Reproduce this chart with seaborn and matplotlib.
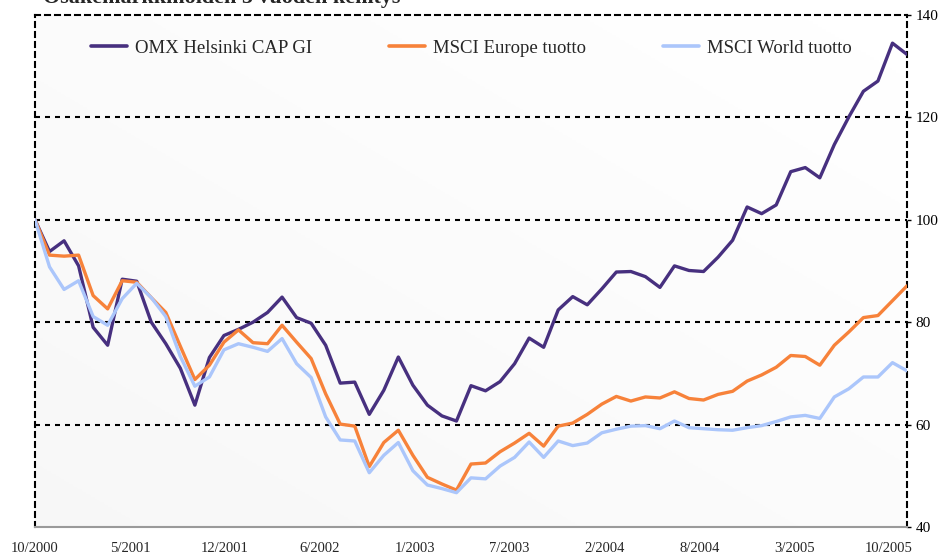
import numpy as np
import pandas as pd
import seaborn as sns
import matplotlib.pyplot as plt

# monthly index values 10/2000 - 10/2005 (start = 100)
months = pd.period_range('2000-10', '2005-10', freq='M').strftime('%m/%Y').tolist()

omx = [100, 93.8, 95.9, 91.0, 79.0, 75.5, 88.4, 88.0, 80.0, 75.8,
       71.0, 63.8, 73.1, 77.4, 78.6, 80.0, 81.9, 84.9, 80.9, 79.8,
       75.5, 68.1, 68.3, 62.0, 66.7, 73.2, 67.7, 63.8, 61.7, 60.7,
       67.6, 66.6, 68.4, 71.9, 76.9, 75.1, 82.4, 85.0, 83.4, 86.5,
       89.8, 89.9, 88.9, 86.8, 91.0, 90.1, 89.9, 92.7, 96.0, 102.5,
       101.2, 102.9, 109.4, 110.2, 108.2, 114.7, 120.1, 125.1, 127.1, 134.5,
       132.3]
europe = [100, 93.1, 92.9, 93.1, 85.2, 82.6, 88.1, 87.8, 84.8, 81.9,
          75.3, 68.8, 71.6, 76.1, 78.5, 76.0, 75.8, 79.4, 76.1, 72.9,
          66.0, 60.1, 59.7, 51.8, 56.5, 58.9, 54.0, 49.7, 48.4, 47.2,
          52.3, 52.5, 54.7, 56.4, 58.3, 55.8, 59.7, 60.3, 62.0, 64.0,
          65.5, 64.6, 65.4, 65.2, 66.4, 65.1, 64.8, 65.9, 66.5, 68.5,
          69.7, 71.2, 73.5, 73.3, 71.6, 75.5, 78.1, 80.9, 81.3, 84.2,
          87.1]
world = [100, 90.8, 86.4, 88.1, 81.1, 79.4, 84.6, 87.6, 84.8, 81.1,
         73.3, 67.5, 69.3, 74.6, 75.8, 75.1, 74.3, 76.8, 71.9, 69.2,
         61.5, 57.0, 56.8, 50.6, 54.0, 56.5, 51.0, 48.2, 47.5, 46.7,
         49.6, 49.4, 51.9, 53.6, 56.6, 53.6, 56.8, 55.9, 56.4, 58.4,
         59.1, 59.7, 59.8, 59.2, 60.7, 59.4, 59.2, 59.0, 58.9, 59.4,
         59.8, 60.6, 61.5, 61.8, 61.2, 65.4, 67.0, 69.3, 69.3, 72.1,
         70.5]

series_names = ['OMX Helsinki CAP GI', 'MSCI Europe tuotto', 'MSCI World tuotto']
colors = ['#47307f', '#f7823a', '#abc6fb']
x_labels = ['10/2000', '5/2001', '12/2001', '6/2002', '1/2003',
            '7/2003', '2/2004', '8/2004', '3/2005', '10/2005']
y_ticks = [40, 60, 80, 100, 120, 140]

df = pd.DataFrame({'idx': np.arange(len(months)), 'month': months,
                   series_names[0]: omx, series_names[1]: europe,
                   series_names[2]: world})
long = df.melt(id_vars=['idx', 'month'], var_name='series', value_name='value')

sns.set_style('white')
plt.rcParams['font.family'] = ['Liberation Serif', 'DejaVu Serif']

fig = plt.figure(figsize=(9.42, 5.59), dpi=100)
ax = fig.add_axes([35 / 942, 1 - 527 / 559, 872 / 942, 512 / 559])

# subtle background gradient
gx, gy = np.meshgrid(np.linspace(0, 1, 200), np.linspace(0, 1, 200))
grad = (1 - gx) * 0.5 + (1 - gy) * 0.5
ax.imshow(grad, extent=[0, 1, 0, 1], transform=ax.transAxes, aspect='auto',
          cmap='Greys', vmin=0, vmax=16, zorder=0, origin='lower')

sns.lineplot(data=long, x='idx', y='value', hue='series', hue_order=series_names,
             palette=dict(zip(series_names, colors)), linewidth=2.4, ax=ax,
             legend=False, zorder=3)

ax.set_xlim(0, len(months) - 1)
ax.set_ylim(40, 140)
ax.set_xlabel('')
ax.set_ylabel('')

# grid and border
for v in [60, 80, 100, 120]:
    ax.axhline(v, color='black', linestyle=(0, (2.4, 2.4)), linewidth=1.5, zorder=2)
for side in ['top', 'left', 'right']:
    ax.spines[side].set_linestyle((0, (2.4, 2.4)))
    ax.spines[side].set_linewidth(1.5)
    ax.spines[side].set_color('black')
ax.spines['bottom'].set_color('#9a9a9a')
ax.spines['bottom'].set_linewidth(1.5)

ax.yaxis.tick_right()
ax.set_yticks(y_ticks)
ax.set_yticklabels([str(t) for t in y_ticks], fontsize=11)
ax.tick_params(axis='y', length=3, width=1, pad=3, colors='black')
ax.set_xticks(np.arange(len(x_labels)) * 6.53)
ax.set_xticklabels(x_labels, fontsize=10.5)
ax.tick_params(axis='x', length=0, pad=11)

handles = [plt.Line2D([], [], color=c, linewidth=2.6) for c in colors]
ax.legend(handles, series_names, ncol=3, loc='upper center',
          bbox_to_anchor=(0.5, 0.985), frameon=False, fontsize=13.5,
          handlelength=1.95, handletextpad=0.4, columnspacing=4.1)

fig.text(43 / 942, 1 - 3 / 559, 'Osakemarkkinoiden 5 vuoden kehitys',
         fontsize=15.8, fontweight='bold', va='baseline', ha='left')

fig.savefig('out.png', dpi=100)
